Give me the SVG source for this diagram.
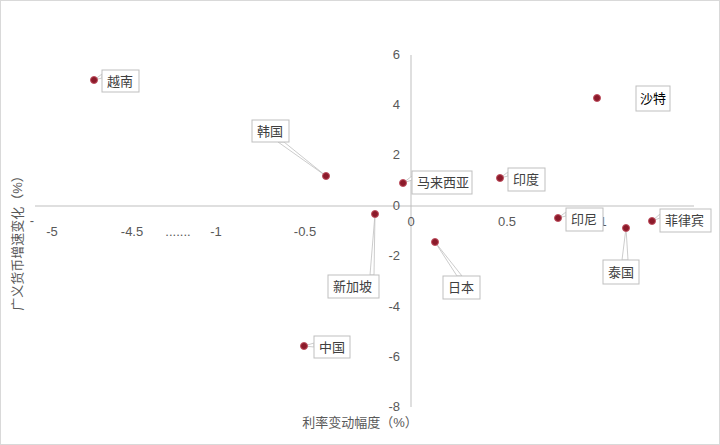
<svg xmlns="http://www.w3.org/2000/svg" width="720" height="445" viewBox="0 0 720 445">
<style>
text{font-family:"Liberation Sans","Noto Sans CJK SC",sans-serif;fill:#595959;font-size:13px}
.lb text{fill:#404040}
.box{fill:#fff;stroke:#bfbfbf;stroke-width:1}
.ax{stroke:#bfbfbf;stroke-width:1}
.pt{fill:#8b1a2a;stroke:#c05060;stroke-width:1}
.ld{fill:#fff;stroke:#bfbfbf;stroke-width:0.8}
</style>
<rect x="0.5" y="0.5" width="719" height="444" fill="#fff" stroke="#d9d9d9"/>
<g id="axes">
<line class="ax" x1="35" y1="206" x2="694" y2="206"/>
<line class="ax" x1="411" y1="55" x2="411" y2="407"/>
<g text-anchor="end">
<text x="400" y="59">6</text><text x="400" y="109">4</text><text x="400" y="159">2</text><text x="400" y="210">0</text>
<text x="400" y="260">-2</text><text x="400" y="311">-4</text><text x="400" y="361">-6</text><text x="400" y="411">-8</text>
</g>
<g text-anchor="middle">
<text x="52" y="236">-5</text><text x="132" y="236">-4.5</text><text x="178" y="236">.......</text><text x="216" y="236">-1</text>
<text x="305" y="236">-0.5</text><text x="411" y="226">0</text><text x="507" y="226">0.5</text><text x="603" y="226">1</text>
</g>
<text x="32" y="225" text-anchor="middle">-</text>
<text x="360" y="427" text-anchor="middle" font-size="15">利率变动幅度（%）</text>
<text transform="translate(22,240) rotate(-90)" text-anchor="middle" font-size="15">广义货币增速变化（%）</text>
</g>
<g id="connectors">
<polygon class="ld" points="94,80 102,74 102,78"/>
<polygon class="ld" points="326,176 278,142 284,142"/>
<polygon class="ld" points="403,183 412,176 412,180"/>
<polygon class="ld" points="375,214 370,275 374,275"/>
<polygon class="ld" points="304,346 314,343 314,347"/>
<polygon class="ld" points="435,242 457,276 462,276"/>
<polygon class="ld" points="500,178 508,172 508,176"/>
<polygon class="ld" points="558,218 566,212 566,216"/>
<polygon class="ld" points="626,228 622,260 628,260"/>
<polygon class="ld" points="652,221 660,214 660,218"/>
</g>
<g class="lb">
<g id="n-vn"><circle class="pt" cx="94" cy="80" r="3.5"/><rect class="box" x="102" y="70" width="37" height="22"/><text x="107" y="86">越南</text></g>
<g id="n-kr"><circle class="pt" cx="326" cy="176" r="3.5"/><rect class="box" x="252" y="120" width="37" height="22"/><text x="257" y="136">韩国</text></g>
<g id="n-my"><circle class="pt" cx="403" cy="183" r="3.5"/><rect class="box" x="412" y="171" width="60" height="23"/><text x="417" y="187">马来西亚</text></g>
<g id="n-sg"><circle class="pt" cx="375" cy="214" r="3.5"/><rect class="box" x="328" y="275" width="51" height="23"/><text x="333" y="291">新加坡</text></g>
<g id="n-cn"><circle class="pt" cx="304" cy="346" r="3.5"/><rect class="box" x="314" y="336" width="36" height="22"/><text x="319" y="352">中国</text></g>
<g id="n-jp"><circle class="pt" cx="435" cy="242" r="3.5"/><rect class="box" x="443" y="276" width="37" height="23"/><text x="448" y="292">日本</text></g>
<g id="n-in"><circle class="pt" cx="500" cy="178" r="3.5"/><rect class="box" x="508" y="168" width="37" height="23"/><text x="513" y="184">印度</text></g>
<g id="n-sa"><circle class="pt" cx="597" cy="98" r="3.5"/><rect class="box" x="636" y="86" width="34" height="25"/><text x="640" y="103" style="fill:#000">沙特</text></g>
<g id="n-id"><circle class="pt" cx="558" cy="218" r="3.5"/><rect class="box" x="566" y="208" width="37" height="23"/><text x="571" y="224">印尼</text></g>
<g id="n-th"><circle class="pt" cx="626" cy="228" r="3.5"/><rect class="box" x="603" y="260" width="36" height="24"/><text x="608" y="277">泰国</text></g>
<g id="n-ph"><circle class="pt" cx="652" cy="221" r="3.5"/><rect class="box" x="660" y="209" width="51" height="23"/><text x="665" y="225">菲律宾</text></g>
</g>
</svg>
